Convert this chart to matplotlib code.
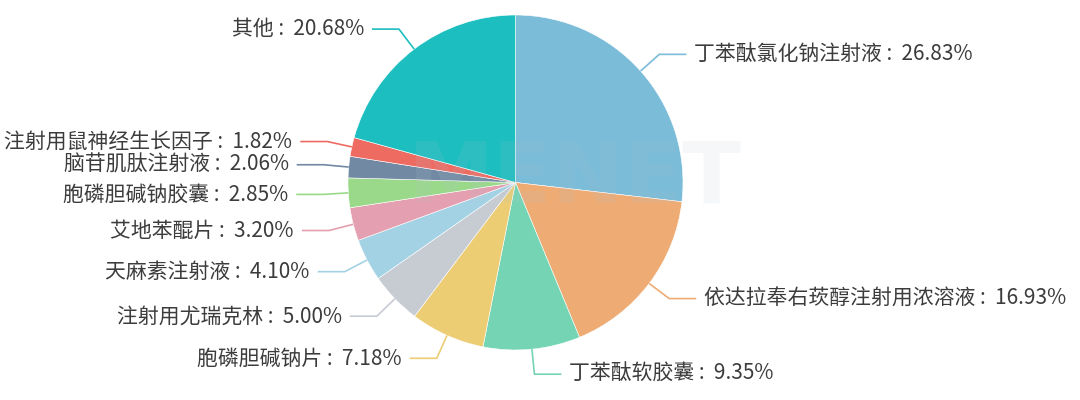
import matplotlib
matplotlib.use("Agg")
import matplotlib.pyplot as plt
import numpy as np

plt.rcParams['font.family'] = ['Noto Sans CJK SC', 'DejaVu Sans']

labels = ["丁苯酞氯化钠注射液", "依达拉奉右莰醇注射用浓溶液", "丁苯酞软胶囊", "胞磷胆碱钠片",
          "注射用尤瑞克林", "天麻素注射液", "艾地苯醌片", "胞磷胆碱钠胶囊",
          "脑苷肌肽注射液", "注射用鼠神经生长因子", "其他"]
values = [26.83, 16.93, 9.35, 7.18, 5.00, 4.10, 3.20, 2.85, 2.06, 1.82, 20.68]
colors = ["#7bbcd9", "#eeab73", "#74d4b4", "#eccd73", "#c7cbd2", "#a3d2e5",
          "#e49fb0", "#9ad98a", "#7189a3", "#ee6b62", "#1cbec0"]

W, H = 1080, 400
cx, cy, R = 515.5, 182.5, 167.5

fig = plt.figure(figsize=(W / 100, H / 100), dpi=100)
ax = fig.add_axes([0, 0, 1, 1])

wedges, _ = ax.pie(values, colors=colors, startangle=90, counterclock=False, radius=1.0,
                   wedgeprops=dict(edgecolor='white', linewidth=0.4), center=(0, 0))

ax.set_xlim(-cx / R, (W - cx) / R)
ax.set_ylim(-(H - cy) / R, cy / R)
ax.set_aspect('equal')
ax.axis('off')

# faint watermark
ax.text(0.35, 0.02, "MENET", ha='center', va='center', fontsize=62, fontweight='bold',
        family='DejaVu Sans', color='#b0c4d0', alpha=0.12, zorder=5)

total = sum(values)
r_elbow = 1.15
seg = 27 / R
gap = 8 / R
min_dy = 23 / R

items = []
cum = 0.0
for lab, v, c in zip(labels, values, colors):
    mid = 90 - (cum + v / 2) / total * 360
    cum += v
    a = np.deg2rad(mid)
    x0, y0 = np.cos(a), np.sin(a)
    xe, ye = r_elbow * np.cos(a), r_elbow * np.sin(a)
    items.append(dict(lab=lab, v=v, c=c, x0=x0, y0=y0, xe=xe, ye=ye, right=x0 >= 0))

for side in (True, False):
    grp = sorted([it for it in items if it['right'] == side], key=lambda d: -d['ye'])
    for i in range(1, len(grp)):
        if grp[i - 1]['ye'] - grp[i]['ye'] < min_dy:
            grp[i]['ye'] = grp[i - 1]['ye'] - min_dy

for it in items:
    sgn = 1 if it['right'] else -1
    xh = it['xe'] + sgn * seg
    ax.plot([it['x0'], it['xe'], xh], [it['y0'], it['ye'], it['ye']],
            color=it['c'], lw=1.2, solid_capstyle='butt', zorder=3)
    ax.text(xh + sgn * gap, it['ye'], f"{it['lab']} :  {it['v']:.2f}%",
            ha='left' if it['right'] else 'right', va='center',
            fontsize=15, color='#3c3c3c')

fig.savefig("out.png", dpi=100)
